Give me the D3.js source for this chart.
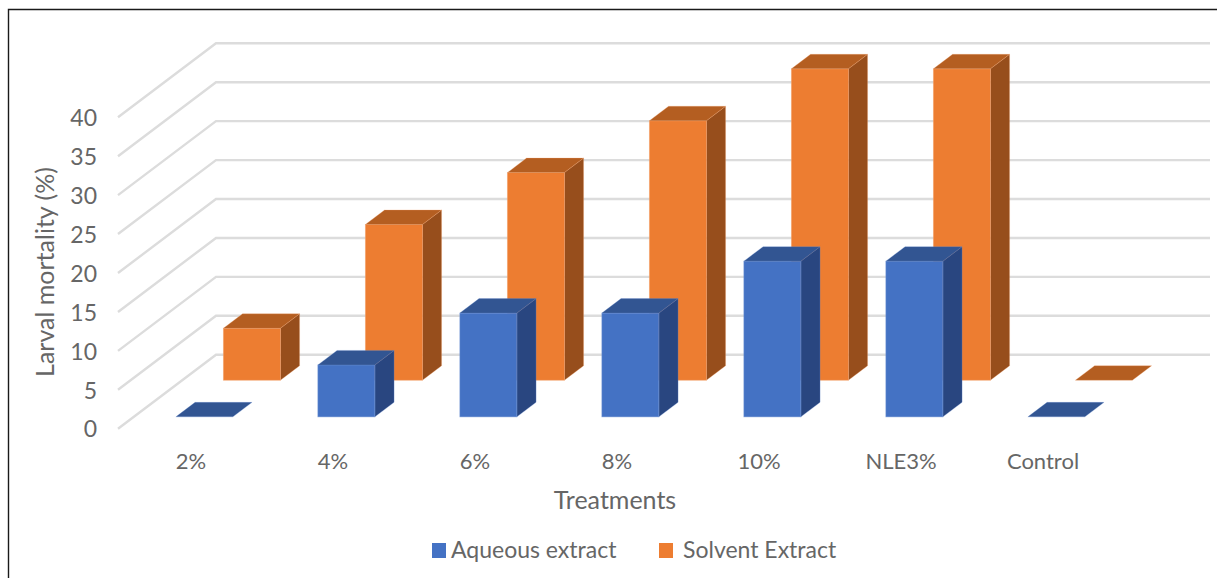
<!DOCTYPE html>
<html>
<head>
<meta charset="utf-8">
<script src="https://cdn.jsdelivr.net/npm/d3@7"></script>
<style>
  html, body { margin: 0; padding: 0; background: #fff; }
  svg { display: block; }
  text { font-family: Lato, sans-serif; fill: #666666; }
</style>
</head>
<body>
<svg id="chart" width="1217" height="578"></svg>
<script>
const categories = ["2%", "4%", "6%", "8%", "10%", "NLE3%", "Control"];
const seriesNames = ["Aqueous extract", "Solvent Extract"];
const aqueous = [0, 6.67, 13.33, 13.33, 20, 20, 0];
const solvent = [6.67, 20, 26.67, 33.33, 40, 40, 0];
const yTicks = [0, 5, 10, 15, 20, 25, 30, 35, 40];

const palette = [
  { front: "#4472C4", top: "#325592", side: "#294680", edge: "#6f93d3" },
  { front: "#ED7D31", top: "#B45E21", side: "#974E1C", edge: "#f3a26b" }
];

const svg = d3.select("#chart");

// Floor-level horizontal scale for categories, value scale for the front wall edge
const x = d3.scaleBand().domain(categories).range([118, 1112]);
const y = d3.scaleLinear().domain([0, 40]).range([428.7, 117.3]);

// Oblique projection: depth 0 is the front of the floor, depth 1 the back wall
const depthX = d3.scaleLinear().domain([0, 1]).range([0, 98]);
const depthY = d3.scaleLinear().domain([0, 1]).range([0, -74]);
const boxDepthX = d3.scaleLinear().domain([0, 1]).range([0, 96]);

const barWidth = 57;
const barDepth = 0.196;
const seriesDepth = [0.16, 0.655];

// Frame: only the top and left edges are inked
svg.append("path")
  .attr("d", d3.line()([[1217, 9.5], [8.5, 9.5], [8.5, 578]]))
  .attr("fill", "none")
  .attr("stroke", "#1a1a1a")
  .attr("stroke-width", 1.4);

// Gridlines run from the front edge to the back wall, then along it
const backRight = x.range()[1] + depthX(1);
svg.append("g").selectAll("path")
  .data(yTicks)
  .join("path")
  .attr("d", v => d3.line()([
    [x.range()[0], y(v)],
    [x.range()[0] + depthX(1), y(v) + depthY(1)],
    [backRight, y(v) + depthY(1)]
  ]))
  .attr("fill", "none")
  .attr("stroke", "#DCDCDC")
  .attr("stroke-width", 2.4);

// One box for a category: side and front faces, then the lid
function drawBars(values, seriesIndex) {
  const colors = palette[seriesIndex];
  const d0 = seriesDepth[seriesIndex];
  const d1 = d0 + barDepth;
  const poly = d3.line();

  const boxes = svg.append("g")
    .selectAll("g")
    .data(values.map((v, i) => ({ v, cat: categories[i] })))
    .join("g");

  const left = d => x(d.cat) + (x.bandwidth() - barWidth) / 2 + boxDepthX(d0);
  const right = d => left(d) + barWidth;
  const base = y(0) + depthY(d0);
  const topY = d => y(d.v) + depthY(d0);
  const dx = depthX(d1) - depthX(d0);
  const dy = depthY(d1) - depthY(d0);

  boxes.filter(d => d.v > 0).append("path")
    .attr("d", d => poly([
      [right(d), topY(d)], [right(d) + dx, topY(d) + dy],
      [right(d) + dx, base + dy], [right(d), base]
    ]) + "Z")
    .attr("fill", colors.side)
    .attr("stroke", colors.edge)
    .attr("stroke-opacity", 0.35)
    .attr("stroke-width", 0.8);

  boxes.filter(d => d.v > 0).append("rect")
    .attr("x", left)
    .attr("y", topY)
    .attr("width", barWidth)
    .attr("height", d => base - topY(d))
    .attr("fill", colors.front)
    .attr("stroke", colors.edge)
    .attr("stroke-opacity", 0.6)
    .attr("stroke-width", 0.8);

  boxes.append("path")
    .attr("d", d => poly([
      [left(d), topY(d)], [right(d), topY(d)],
      [right(d) + dx, topY(d) + dy], [left(d) + dx, topY(d) + dy]
    ]) + "Z")
    .attr("fill", colors.top)
    .attr("stroke", colors.edge)
    .attr("stroke-opacity", 0.35)
    .attr("stroke-width", 0.8);
}

// Back series first so the front series overlaps it
drawBars(solvent, 1);
drawBars(aqueous, 0);

// Value axis
const yAxis = svg.append("g")
  .attr("transform", "translate(97,0)")
  .call(d3.axisLeft(y).tickValues(yTicks).tickSize(0).tickPadding(0));
yAxis.select(".domain").remove();
yAxis.selectAll("text").attr("font-size", 23).attr("dy", "0.36em");
yAxis.attr("font-family", null);

// Category axis
const xAxis = svg.append("g")
  .attr("transform", "translate(2,452)")
  .call(d3.axisBottom(x).tickSize(0).tickPadding(0));
xAxis.select(".domain").remove();
xAxis.selectAll("text").attr("font-size", 22).attr("dy", "0.71em").attr("y", 1);
xAxis.attr("font-family", null);

// Axis titles
svg.append("text")
  .attr("transform", "translate(54,272) rotate(-90)")
  .attr("text-anchor", "middle")
  .attr("font-size", 25)
  .text("Larval mortality (%)");

svg.append("text")
  .attr("x", 615)
  .attr("y", 509)
  .attr("text-anchor", "middle")
  .attr("font-size", 25)
  .text("Treatments");

// Legend
const legendX = [432, 659];
const legend = svg.append("g").selectAll("g")
  .data(seriesNames)
  .join("g")
  .attr("transform", (d, i) => `translate(${legendX[i]},543)`);
legend.append("rect")
  .attr("width", 14)
  .attr("height", 15)
  .attr("fill", (d, i) => palette[i].front);
legend.append("text")
  .attr("x", (d, i) => i === 0 ? 19 : 24)
  .attr("y", 15)
  .attr("font-size", 23)
  .text(d => d);
</script>
</body>
</html>
